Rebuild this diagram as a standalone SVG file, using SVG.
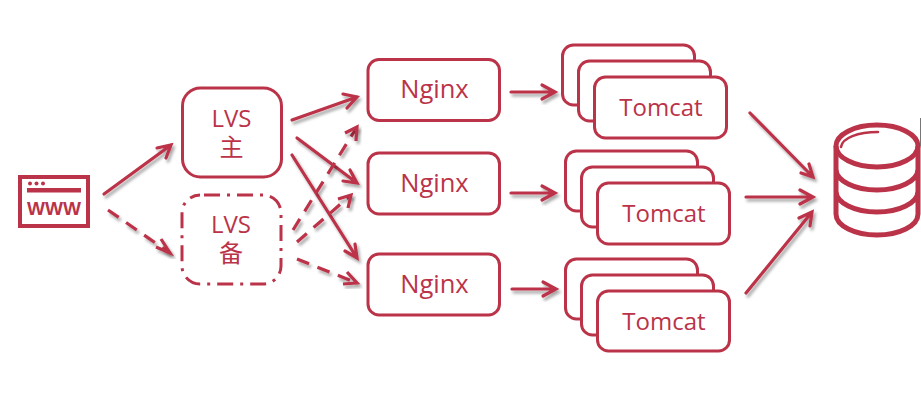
<svg xmlns="http://www.w3.org/2000/svg" width="921" height="411" viewBox="0 0 921 411">
<defs>
<filter id="sh" x="-30%" y="-30%" width="170%" height="170%" filterUnits="objectBoundingBox"><feDropShadow dx="2" dy="3" stdDeviation="1.6" flood-color="#000" flood-opacity="0.35"/></filter>
<style>
.box{fill:#fff;stroke:#bb3348;stroke-width:3}
.t{font-family:"Open Sans","Noto Sans CJK SC",sans-serif;font-size:24px;fill:#bb3348;text-anchor:middle}
.n{font-size:25.5px}
.a{fill:none;stroke:#bb3348;stroke-width:3.2;stroke-linecap:round;stroke-linejoin:miter;filter:url(#sh)}
.d{stroke-dasharray:13 9;stroke-linecap:butt}
.h{fill:none;stroke:#bb3348;stroke-width:3.2;filter:url(#sh)}
.db{fill:none;stroke:#bb3348;stroke-width:5}
</style>
</defs>
<rect width="921" height="411" fill="#fff"/>
<g id="www">
<rect x="20" y="177" width="68" height="49" fill="#fff" stroke="#bb3348" stroke-width="4"/>
<circle cx="30" cy="183.500" r="2" fill="#bb3348"/><circle cx="36.500" cy="183.500" r="2" fill="#bb3348"/><circle cx="43" cy="183.500" r="2" fill="#bb3348"/>
<rect x="27" y="188" width="54" height="4.500" fill="#bb3348"/>
<text x="54" y="215" font-family="Liberation Sans, sans-serif" font-weight="700" font-size="18" fill="#bb3348" text-anchor="middle" textLength="54" lengthAdjust="spacingAndGlyphs">WWW</text>
</g>
<g id="lvs-main"><rect class="box" x="182.500" y="88" width="99" height="89" rx="18"/><text class="t"><tspan x="231.500" y="127">LVS</tspan><tspan x="231.500" y="156">主</tspan></text></g>
<g id="lvs-backup"><rect class="box" x="182" y="195" width="99" height="89" rx="18" stroke-dasharray="16 7 3 7" stroke-dashoffset="-4"/><text class="t"><tspan x="231" y="233">LVS</tspan><tspan x="231" y="262">备</tspan></text></g>
<g id="nginx-1"><rect class="box" x="368" y="59.500" width="131.500" height="61" rx="11"/><text class="t n" x="434.500" y="98">Nginx</text></g>
<g id="nginx-2"><rect class="box" x="368" y="153" width="131.500" height="61" rx="11"/><text class="t n" x="434.500" y="192">Nginx</text></g>
<g id="nginx-3"><rect class="box" x="368" y="254" width="131.500" height="61" rx="11"/><text class="t n" x="434.500" y="293">Nginx</text></g>
<g id="tomcat-1">
<rect class="box" x="562.500" y="45" width="132" height="60" rx="11"/>
<rect class="box" x="578.500" y="61" width="132" height="60" rx="11"/>
<rect class="box" x="594.500" y="77" width="132" height="61" rx="11"/>
<text class="t" x="661" y="116">Tomcat</text></g>
<g id="tomcat-2">
<rect class="box" x="565.500" y="151" width="132" height="60" rx="11"/>
<rect class="box" x="581.500" y="167" width="132" height="60" rx="11"/>
<rect class="box" x="597.500" y="183" width="132" height="61" rx="11"/>
<text class="t" x="664" y="222">Tomcat</text></g>
<g id="tomcat-3">
<rect class="box" x="565.500" y="259" width="132" height="60" rx="11"/>
<rect class="box" x="581.500" y="275" width="132" height="60" rx="11"/>
<rect class="box" x="597.500" y="291" width="132" height="60" rx="11"/>
<text class="t" x="664" y="330">Tomcat</text></g>
<g id="database">
<ellipse class="db" cx="877" cy="146" rx="41" ry="21"/>
<path class="db" d="M836 146V214C836 226 855 235 877 235S918 226 918 214V146M836 169C836 181 855 190 877 190S918 181 918 169M836 191C836 203 855 212 877 212S918 203 918 191"/>
<path d="M841 147C842 138 858 132 878 132" fill="none" stroke="#bb3348" stroke-width="2.500" stroke-linecap="round"/>
<path d="M920.500 118V146" fill="none" stroke="#777" stroke-width="1"/>
</g>
<g id="connectors">
<path class="a" d="M104 194L171 145M157 148L171 145L166 158"/>
<path class="a d" d="M108 210L170 253"/><path class="h" d="M161 239L170 253L156 247"/>
<path class="a" d="M292 120L357 97M343 94L357 97L347 108"/>
<path class="a" d="M297 138L357 183M350 170L357 183L343 181"/>
<path class="a" d="M292 155L357 258M355 244L357 258L345 251"/>
<path class="a d" d="M293 230L357 127"/><path class="h" d="M345 133L357 127L356 141"/>
<path class="a d" d="M297 242L351 195"/><path class="h" d="M338 199L351 195L348 208"/>
<path class="a d" d="M297 259L357 283"/><path class="h" d="M347 272L357 283L343 284"/>
<path class="a" d="M511 92L555 92M542 85L555 92L542 99"/>
<path class="a" d="M511 193L555 193M542 186L555 193L542 200"/>
<path class="a" d="M512 289L556 289M543 282L556 289L543 296"/>
<path class="a" d="M750 113L813 177M801 173L813 177L809 164"/>
<path class="a" d="M746 197L813 197M800 190L813 197L800 204"/>
<path class="a" d="M746 293L812 212M799 218L812 212L810 226"/>
</g>
</svg>
